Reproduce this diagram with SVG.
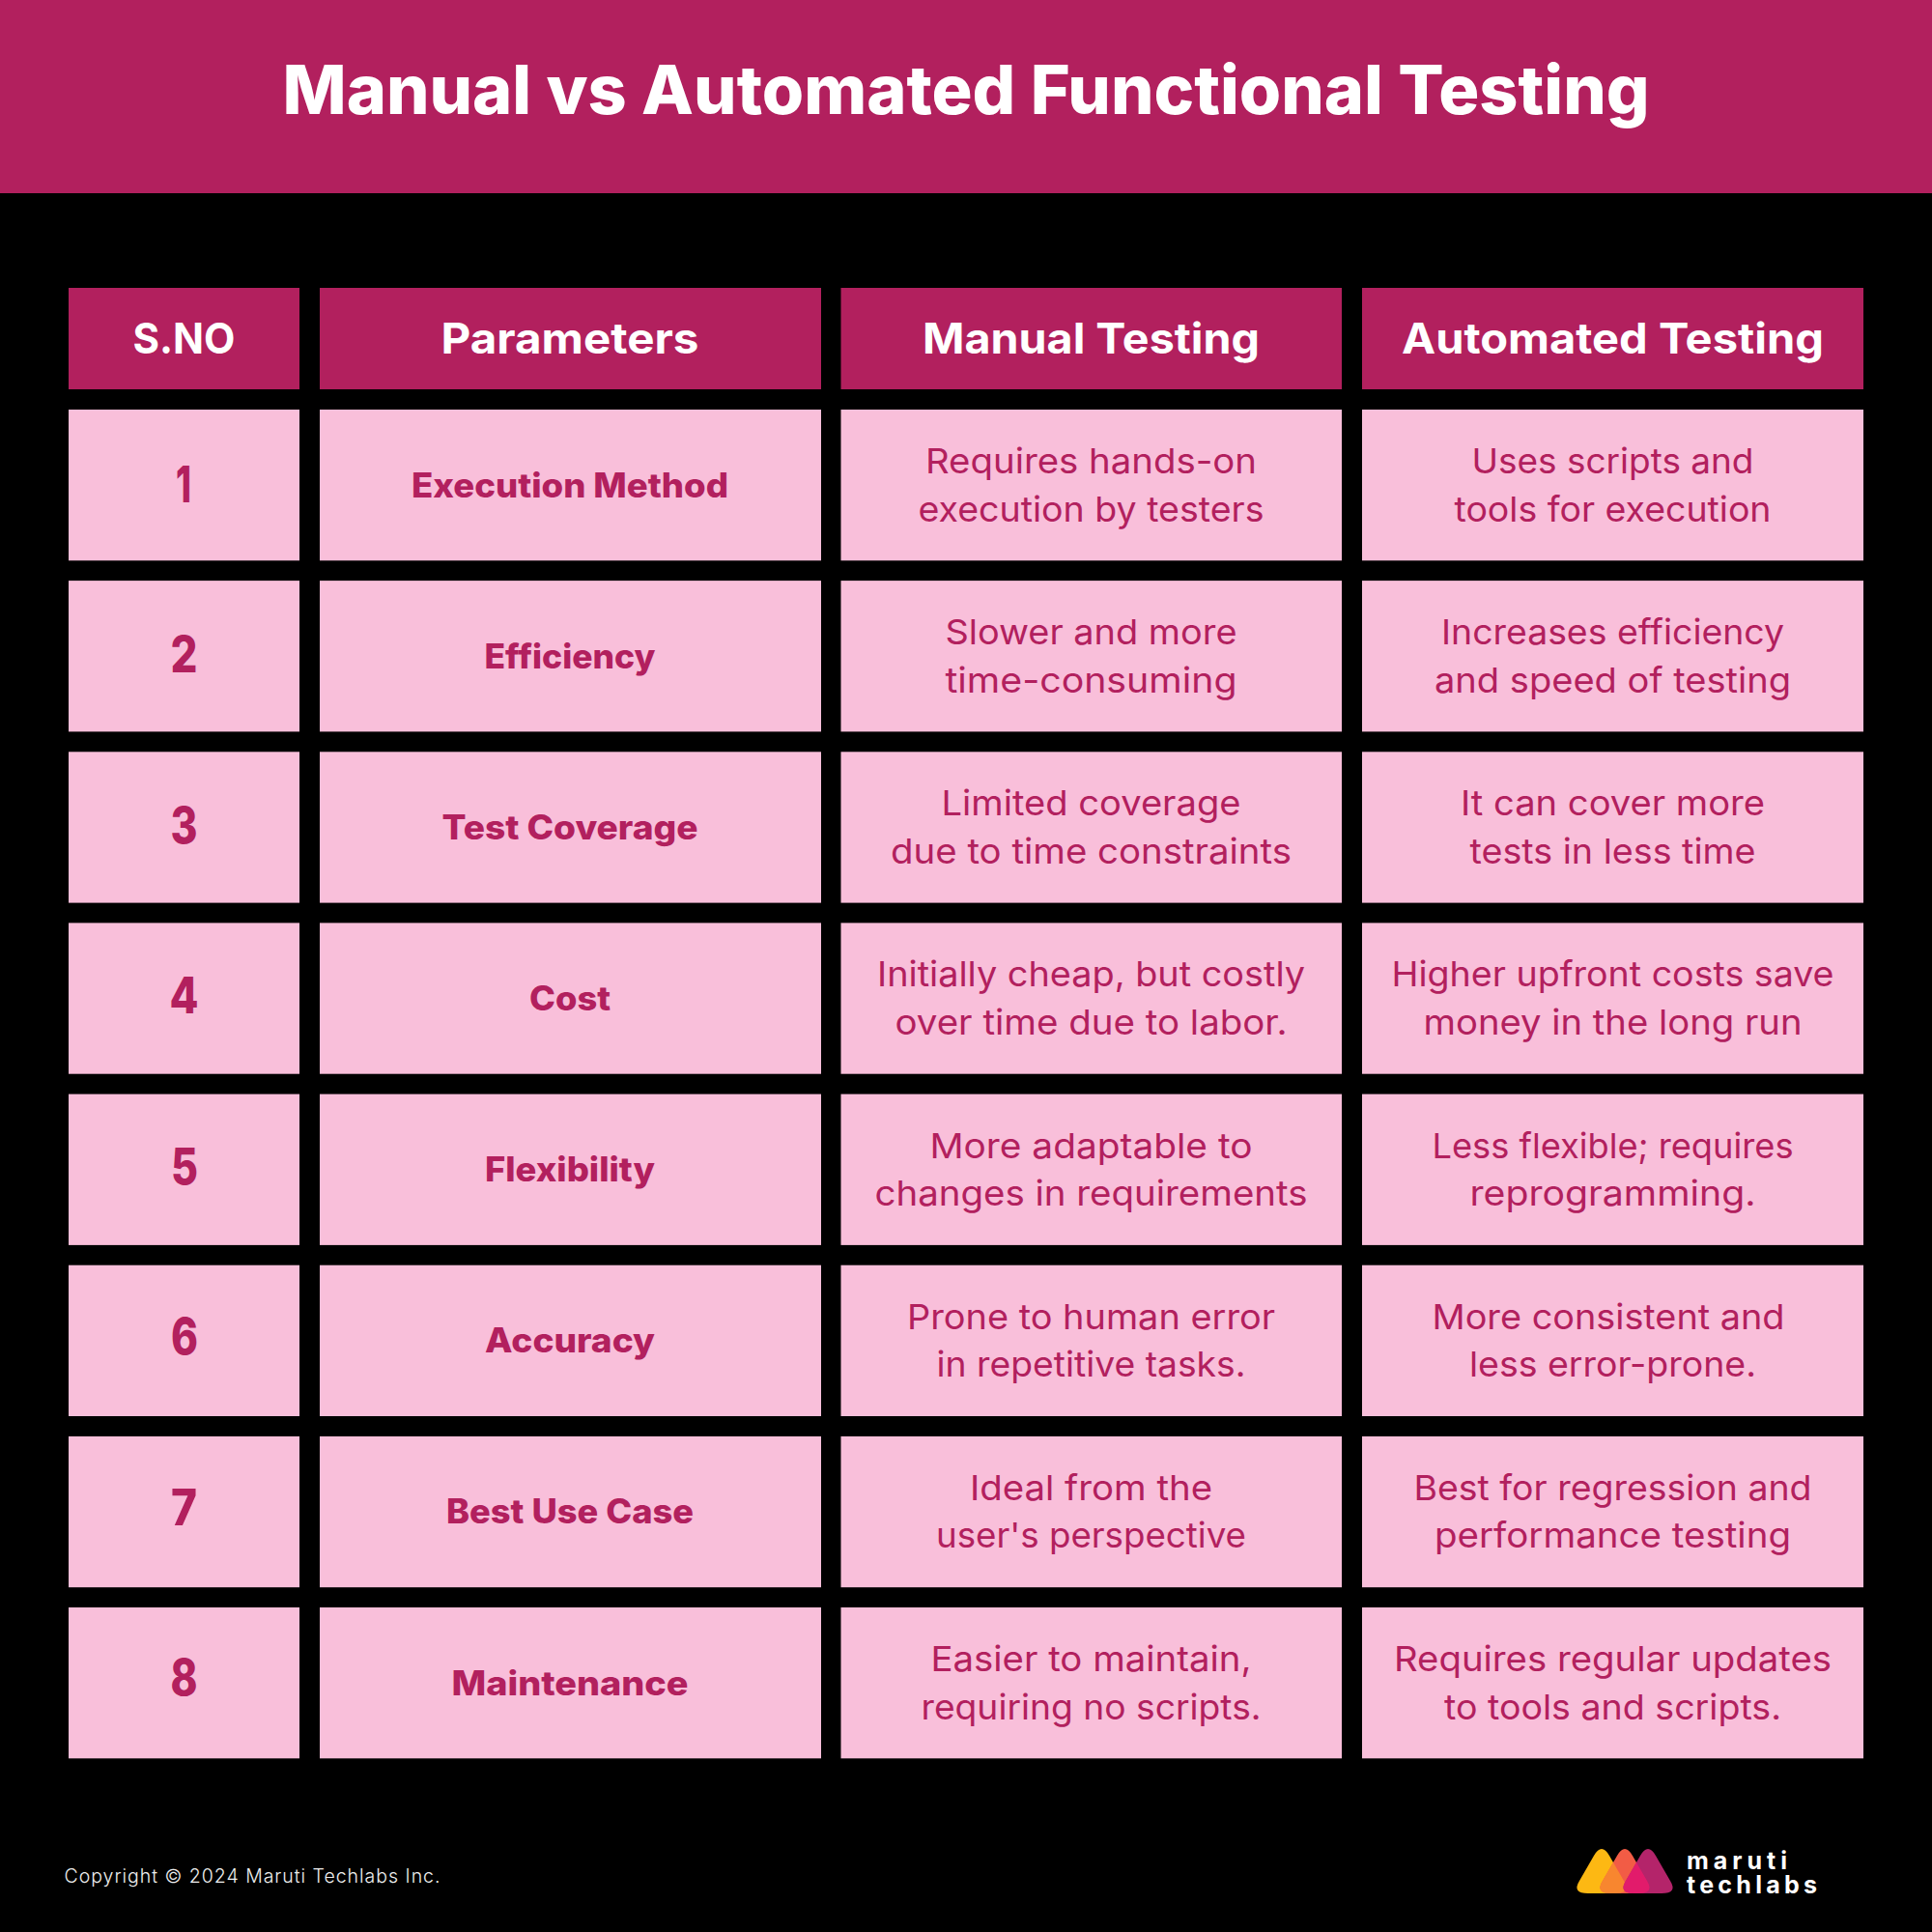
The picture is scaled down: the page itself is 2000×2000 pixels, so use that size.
<svg xmlns="http://www.w3.org/2000/svg" width="2000" height="2000" viewBox="0 0 2000 2000">
<style>
text{font-family:Inter,"Open Sans","Liberation Sans",sans-serif;text-anchor:middle}
.h{fill:#b2205e}.c{fill:#f9bfda}
.ht{fill:#fff;font-weight:700;font-size:44px}
.n{fill:#b2205e;font-weight:800;font-size:52px}
.p{fill:#b2205e;font-weight:800;font-size:35px}
.b{fill:#b2205e;font-weight:400;font-size:36px}
</style>
<defs>
<path id="t" d="M-8 1921Q0 1907 8 1921L23 1947Q31 1960 14 1960L-14 1960Q-31 1960 -23 1947Z"/>
<clipPath id="cy"><use href="#t" x="1658"/></clipPath>
<clipPath id="co"><use href="#t" x="1682"/></clipPath>
</defs>
<rect width="2000" height="2000" fill="#000"/>
<g id="banner"><rect width="2000" height="200" fill="#b2205e"/>
<text x="1000" y="118" fill="#fff" font-size="70" font-weight="800" textLength="1415" lengthAdjust="spacingAndGlyphs">Manual vs Automated Functional Testing</text></g>
<g id="header-row">
<g id="h1"><rect class="h" x="71" y="298" width="239" height="105"/><text class="ht" x="190.500" y="366" textLength="106" lengthAdjust="spacingAndGlyphs">S.NO</text></g>
<g id="h2"><rect class="h" x="331" y="298" width="519" height="105"/><text class="ht" x="590" y="366" textLength="267" lengthAdjust="spacingAndGlyphs">Parameters</text></g>
<g id="h3"><rect class="h" x="870.500" y="298" width="518.500" height="105"/><text class="ht" x="1129.500" y="366" textLength="349" lengthAdjust="spacingAndGlyphs">Manual Testing</text></g>
<g id="h4"><rect class="h" x="1410" y="298" width="519" height="105"/><text class="ht" x="1669.500" y="366" textLength="437" lengthAdjust="spacingAndGlyphs">Automated Testing</text></g>
</g>
<g id="row1">
<rect class="c" x="71" y="424" width="239" height="156.300"/><rect class="c" x="331" y="424" width="519" height="156.300"/><rect class="c" x="870.500" y="424" width="518.500" height="156.300"/><rect class="c" x="1410" y="424" width="519" height="156.300"/>
<text class="n" x="190" y="519.500" textLength="16" lengthAdjust="spacingAndGlyphs">1</text>
<text class="p" x="590" y="514.500" textLength="328" lengthAdjust="spacingAndGlyphs">Execution Method</text>
<text class="b" x="1129.500" y="490" textLength="343" lengthAdjust="spacingAndGlyphs">Requires hands-on</text>
<text class="b" x="1129.500" y="539.500" textLength="358" lengthAdjust="spacingAndGlyphs">execution by testers</text>
<text class="b" x="1669.500" y="490" textLength="292" lengthAdjust="spacingAndGlyphs">Uses scripts and</text>
<text class="b" x="1669.500" y="539.500" textLength="328" lengthAdjust="spacingAndGlyphs">tools for execution</text>
</g>
<g id="row2">
<rect class="c" x="71" y="601.100" width="239" height="156.300"/><rect class="c" x="331" y="601.100" width="519" height="156.300"/><rect class="c" x="870.500" y="601.100" width="518.500" height="156.300"/><rect class="c" x="1410" y="601.100" width="519" height="156.300"/>
<text class="n" x="190.500" y="696" textLength="28" lengthAdjust="spacingAndGlyphs">2</text>
<text class="p" x="590" y="691.600" textLength="177" lengthAdjust="spacingAndGlyphs">Efficiency</text>
<text class="b" x="1129.500" y="667.100" textLength="302" lengthAdjust="spacingAndGlyphs">Slower and more</text>
<text class="b" x="1129.500" y="716.600" textLength="302" lengthAdjust="spacingAndGlyphs">time-consuming</text>
<text class="b" x="1669.500" y="667.100" textLength="355" lengthAdjust="spacingAndGlyphs">Increases efficiency</text>
<text class="b" x="1669.500" y="716.600" textLength="369" lengthAdjust="spacingAndGlyphs">and speed of testing</text>
</g>
<g id="row3">
<rect class="c" x="71" y="778.300" width="239" height="156.300"/><rect class="c" x="331" y="778.300" width="519" height="156.300"/><rect class="c" x="870.500" y="778.300" width="518.500" height="156.300"/><rect class="c" x="1410" y="778.300" width="519" height="156.300"/>
<text class="n" x="190.500" y="872.500" textLength="28" lengthAdjust="spacingAndGlyphs">3</text>
<text class="p" x="590" y="868.800" textLength="265" lengthAdjust="spacingAndGlyphs">Test Coverage</text>
<text class="b" x="1129.500" y="844.300" textLength="310" lengthAdjust="spacingAndGlyphs">Limited coverage</text>
<text class="b" x="1129.500" y="893.800" textLength="415" lengthAdjust="spacingAndGlyphs">due to time constraints</text>
<text class="b" x="1669.500" y="844.300" textLength="315" lengthAdjust="spacingAndGlyphs">It can cover more</text>
<text class="b" x="1669.500" y="893.800" textLength="296" lengthAdjust="spacingAndGlyphs">tests in less time</text>
</g>
<g id="row4">
<rect class="c" x="71" y="955.400" width="239" height="156.300"/><rect class="c" x="331" y="955.400" width="519" height="156.300"/><rect class="c" x="870.500" y="955.400" width="518.500" height="156.300"/><rect class="c" x="1410" y="955.400" width="519" height="156.300"/>
<text class="n" x="190.500" y="1049" textLength="30" lengthAdjust="spacingAndGlyphs">4</text>
<text class="p" x="590" y="1045.900" textLength="84" lengthAdjust="spacingAndGlyphs">Cost</text>
<text class="b" x="1129.500" y="1021.400" textLength="443" lengthAdjust="spacingAndGlyphs">Initially cheap, but costly</text>
<text class="b" x="1129.500" y="1070.900" textLength="406" lengthAdjust="spacingAndGlyphs">over time due to labor.</text>
<text class="b" x="1669.500" y="1021.400" textLength="458" lengthAdjust="spacingAndGlyphs">Higher upfront costs save</text>
<text class="b" x="1669.500" y="1070.900" textLength="392" lengthAdjust="spacingAndGlyphs">money in the long run</text>
</g>
<g id="row5">
<rect class="c" x="71" y="1132.600" width="239" height="156.300"/><rect class="c" x="331" y="1132.600" width="519" height="156.300"/><rect class="c" x="870.500" y="1132.600" width="518.500" height="156.300"/><rect class="c" x="1410" y="1132.600" width="519" height="156.300"/>
<text class="n" x="191" y="1225.500" textLength="28" lengthAdjust="spacingAndGlyphs">5</text>
<text class="p" x="590" y="1223.100" textLength="176" lengthAdjust="spacingAndGlyphs">Flexibility</text>
<text class="b" x="1129.500" y="1198.600" textLength="334" lengthAdjust="spacingAndGlyphs">More adaptable to</text>
<text class="b" x="1129.500" y="1248.100" textLength="448" lengthAdjust="spacingAndGlyphs">changes in requirements</text>
<text class="b" x="1669.500" y="1198.600" textLength="374" lengthAdjust="spacingAndGlyphs">Less flexible; requires</text>
<text class="b" x="1669.500" y="1248.100" textLength="296" lengthAdjust="spacingAndGlyphs">reprogramming.</text>
</g>
<g id="row6">
<rect class="c" x="71" y="1309.700" width="239" height="156.300"/><rect class="c" x="331" y="1309.700" width="519" height="156.300"/><rect class="c" x="870.500" y="1309.700" width="518.500" height="156.300"/><rect class="c" x="1410" y="1309.700" width="519" height="156.300"/>
<text class="n" x="191" y="1402" textLength="28" lengthAdjust="spacingAndGlyphs">6</text>
<text class="p" x="590" y="1400.200" textLength="176" lengthAdjust="spacingAndGlyphs">Accuracy</text>
<text class="b" x="1129.500" y="1375.700" textLength="381" lengthAdjust="spacingAndGlyphs">Prone to human error</text>
<text class="b" x="1129.500" y="1425.200" textLength="320" lengthAdjust="spacingAndGlyphs">in repetitive tasks.</text>
<text class="b" x="1665" y="1375.700" textLength="365" lengthAdjust="spacingAndGlyphs">More consistent and</text>
<text class="b" x="1669.500" y="1425.200" textLength="297" lengthAdjust="spacingAndGlyphs">less error-prone.</text>
</g>
<g id="row7">
<rect class="c" x="71" y="1486.900" width="239" height="156.300"/><rect class="c" x="331" y="1486.900" width="519" height="156.300"/><rect class="c" x="870.500" y="1486.900" width="518.500" height="156.300"/><rect class="c" x="1410" y="1486.900" width="519" height="156.300"/>
<text class="n" x="190.500" y="1578.500" textLength="27" lengthAdjust="spacingAndGlyphs">7</text>
<text class="p" x="590" y="1577.400" textLength="256" lengthAdjust="spacingAndGlyphs">Best Use Case</text>
<text class="b" x="1129.500" y="1552.900" textLength="251" lengthAdjust="spacingAndGlyphs">Ideal from the</text>
<text class="b" x="1129.500" y="1602.400" textLength="321" lengthAdjust="spacingAndGlyphs">user's perspective</text>
<text class="b" x="1669.500" y="1552.900" textLength="412" lengthAdjust="spacingAndGlyphs">Best for regression and</text>
<text class="b" x="1669.500" y="1602.400" textLength="369" lengthAdjust="spacingAndGlyphs">performance testing</text>
</g>
<g id="row8">
<rect class="c" x="71" y="1664" width="239" height="156.300"/><rect class="c" x="331" y="1664" width="519" height="156.300"/><rect class="c" x="870.500" y="1664" width="518.500" height="156.300"/><rect class="c" x="1410" y="1664" width="519" height="156.300"/>
<text class="n" x="190.500" y="1755" textLength="28" lengthAdjust="spacingAndGlyphs">8</text>
<text class="p" x="590" y="1754.500" textLength="245" lengthAdjust="spacingAndGlyphs">Maintenance</text>
<text class="b" x="1129.500" y="1730" textLength="332" lengthAdjust="spacingAndGlyphs">Easier to maintain,</text>
<text class="b" x="1129.500" y="1779.500" textLength="352" lengthAdjust="spacingAndGlyphs">requiring no scripts.</text>
<text class="b" x="1669.500" y="1730" textLength="453" lengthAdjust="spacingAndGlyphs">Requires regular updates</text>
<text class="b" x="1669.500" y="1779.500" textLength="349" lengthAdjust="spacingAndGlyphs">to tools and scripts.</text>
</g>
<g id="footer">
<text x="261" y="1949" fill="#eee" font-size="19.500" font-weight="300" textLength="389" lengthAdjust="spacing">Copyright © 2024 Maruti Techlabs Inc.</text>
</g>
<g id="logo">
<use href="#t" x="1658" fill="#fdb813"/>
<use href="#t" x="1682" fill="#f25c45"/>
<g clip-path="url(#cy)"><use href="#t" x="1682" fill="#f8862f"/></g>
<use href="#t" x="1706" fill="#b4246a"/>
<g clip-path="url(#co)"><use href="#t" x="1706" fill="#e21b6b"/></g>
<text x="1798" y="1935" fill="#fff" font-size="25" font-weight="700" textLength="104" lengthAdjust="spacing">maruti</text>
<text x="1813.500" y="1960" fill="#fff" font-size="25" font-weight="700" textLength="135" lengthAdjust="spacing">techlabs</text>
</g>
</svg>
